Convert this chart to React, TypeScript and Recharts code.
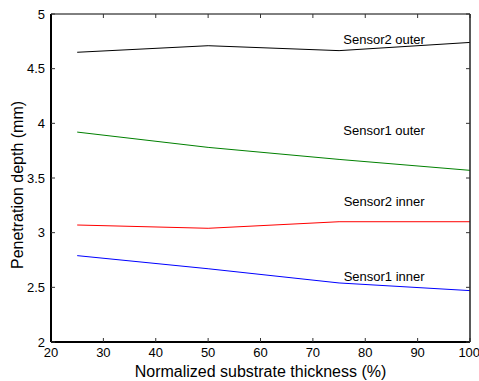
import React from 'react';
import { LineChart, Line, XAxis, YAxis, ReferenceDot } from 'recharts';

const thickness = [25, 50, 75, 100];
const sensor2Outer = [4.65, 4.71, 4.665, 4.74];
const sensor1Outer = [3.92, 3.78, 3.67, 3.57];
const sensor2Inner = [3.07, 3.04, 3.1, 3.1];
const sensor1Inner = [2.79, 2.67, 2.54, 2.47];

const xTicks = [20, 30, 40, 50, 60, 70, 80, 90, 100];
const yTicks = [2, 2.5, 3, 3.5, 4, 4.5, 5];

const labelNames = ['Sensor2 outer', 'Sensor1 outer', 'Sensor2 inner', 'Sensor1 inner'];
const labelX = 83.6;
const labelY = [4.77, 3.94, 3.29, 2.6];

const data = thickness.map((t, i) => ({
  t,
  s2o: sensor2Outer[i],
  s1o: sensor1Outer[i],
  s2i: sensor2Inner[i],
  s1i: sensor1Inner[i],
}));

const FONT = '"Liberation Sans", Arial, Helvetica, sans-serif';

const YTitle = (props: any) => {
  const vb = props.viewBox || {};
  const cx = vb.x + 17;
  const cy = vb.y + vb.height / 2 + 7;
  return (
    <text
      x={cx}
      y={cy}
      transform={`rotate(-90 ${cx} ${cy})`}
      textAnchor="middle"
      dominantBaseline="central"
      fontSize={16}
      fill="#000"
      fontFamily={FONT}
    >
      Penetration depth (mm)
    </text>
  );
};

const XTitle = (props: any) => {
  const vb = props.viewBox || {};
  return (
    <text
      x={vb.x + vb.width / 2}
      y={vb.y + 35}
      textAnchor="middle"
      fontSize={16}
      fill="#000"
      fontFamily={FONT}
    >
      Normalized substrate thickness (%)
    </text>
  );
};

const NoLabel = () => <g />;

export default function App() {
  return (
    <div style={{ position: 'absolute', left: 0, top: 0, fontFamily: FONT }}>
      <LineChart
        width={479}
        height={381}
        data={data}
        margin={{ top: 9, right: 4, bottom: 0, left: 0 }}
        style={{ fontFamily: FONT }}
      >
        <XAxis
          dataKey="t"
          type="number"
          domain={[20, 100]}
          ticks={xTicks}
          height={39}
          stroke="#000"
          axisLine={{ stroke: '#000', strokeWidth: 2 }}
          tickLine={{ stroke: '#333', strokeWidth: 1 }}
          tickSize={-4}
          tickMargin={10}
          tick={{ fill: '#000', fontSize: 13 }}
          allowDataOverflow
          label={<XTitle />}
        />
        <XAxis
          xAxisId="top"
          orientation="top"
          dataKey="t"
          type="number"
          domain={[20, 100]}
          ticks={xTicks}
          height={5}
          stroke="#000"
          axisLine={{ stroke: '#000', strokeWidth: 1 }}
          tickLine={{ stroke: '#333', strokeWidth: 1 }}
          tickSize={-4}
          tick={NoLabel}
          allowDataOverflow
        />
        <YAxis
          type="number"
          domain={[2, 5]}
          ticks={yTicks}
          width={51}
          stroke="#000"
          axisLine={{ stroke: '#000', strokeWidth: 2 }}
          tickLine={{ stroke: '#333', strokeWidth: 1 }}
          tickSize={-4}
          tickMargin={10}
          tick={{ fill: '#000', fontSize: 13 }}
          allowDataOverflow
          label={<YTitle />}
        />
        <YAxis
          yAxisId="right"
          orientation="right"
          type="number"
          domain={[2, 5]}
          ticks={yTicks}
          width={5}
          stroke="#000"
          axisLine={{ stroke: '#222', strokeWidth: 1.5 }}
          tickLine={{ stroke: '#333', strokeWidth: 1 }}
          tickSize={-4}
          tick={NoLabel}
          allowDataOverflow
        />
        <Line dataKey="s2o" stroke="#000000" strokeWidth={1} dot={false} isAnimationActive={false} />
        <Line dataKey="s1o" stroke="#008000" strokeWidth={1} dot={false} isAnimationActive={false} />
        <Line dataKey="s2i" stroke="#ff0000" strokeWidth={1} dot={false} isAnimationActive={false} />
        <Line dataKey="s1i" stroke="#0000ff" strokeWidth={1} dot={false} isAnimationActive={false} />
        {labelNames.map((name, i) => (
          <ReferenceDot
            key={name}
            x={labelX}
            y={labelY[i]}
            r={0}
            fill="none"
            stroke="none"
            label={{ value: name, position: 'center', fill: '#000', fontSize: 13, fontFamily: FONT }}
          />
        ))}
      </LineChart>
    </div>
  );
}
